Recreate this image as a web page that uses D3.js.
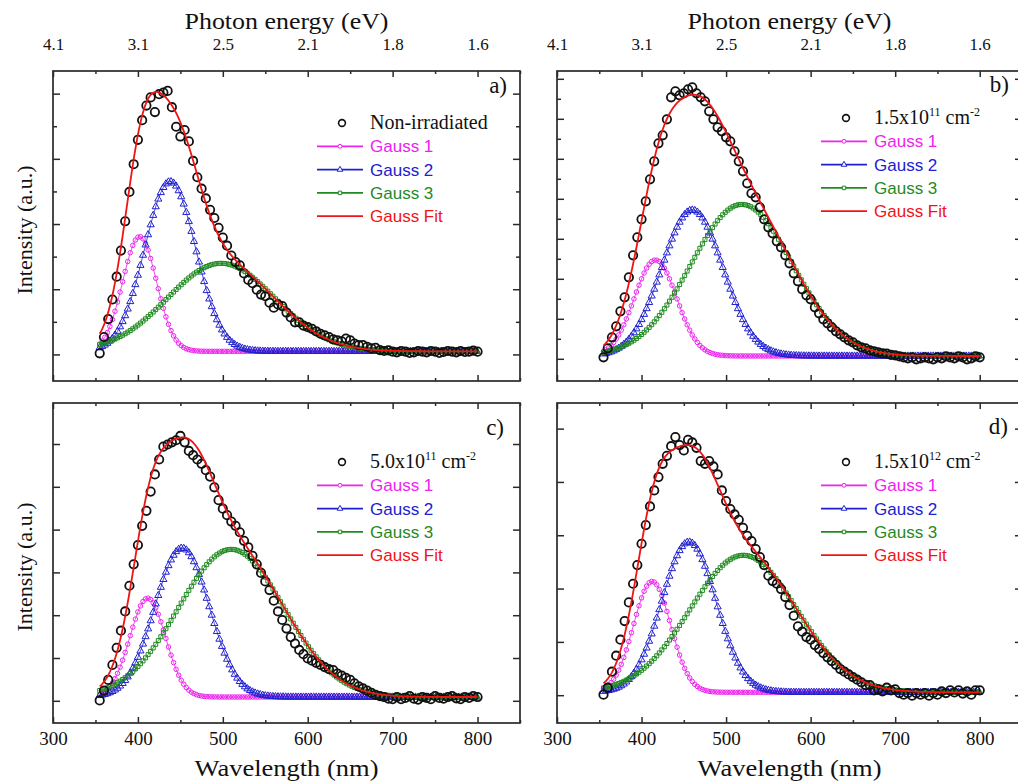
<!DOCTYPE html>
<html><head><meta charset="utf-8">
<script src="https://cdn.jsdelivr.net/npm/d3@7"></script>
<style>body{margin:0;background:#fff}svg{display:block}</style>
</head><body>
<svg id="chart" width="1018" height="783"></svg>
<script>
// ---------------- DATA ----------------
const wavelengthMajorTicks = [300, 400, 500, 600, 700, 800];
const wavelengthMinorTicks = [350, 450, 550, 650, 750, 850];
const photonEnergyLabels = ["4.1", "3.1", "2.5", "2.1", "1.8", "1.6"];
const panelLetters = ["a)", "b)", "c)", "d)"];
const sampleBase = ["Non-irradiated", "1.5x10", "5.0x10", "1.5x10"];
const sampleExp = [null, "11", "11", "12"];
const componentNames = ["Gauss 1", "Gauss 2", "Gauss 3", "Gauss Fit"];
const wavelengthDomain = [300, 850];

// measured PL points: 355 nm to 800 nm, every 5 nm
const measuredWavelengths = d3.range(355, 801, 5);
const intensityA = [0.05,0.55,1.10,1.70,2.40,3.20,4.10,5.00,5.85,6.60,7.20,7.65,7.90,7.45,8.00,8.05,8.10,7.60,7.00,6.70,
  6.90,6.55,5.95,5.45,5.10,4.80,4.45,4.20,3.90,3.60,3.35,3.05,2.85,2.75,2.50,2.30,2.20,2.00,1.85,1.80,
  1.60,1.45,1.55,1.50,1.30,1.15,1.00,1.00,0.90,0.85,0.80,0.72,0.65,0.60,0.55,0.48,0.45,0.42,0.50,0.45,
  0.35,0.30,0.30,0.25,0.20,0.22,0.15,0.12,0.14,0.10,0.08,0.12,0.10,0.06,0.08,0.12,0.10,0.08,0.12,0.10,
  0.06,0.09,0.12,0.10,0.08,0.12,0.09,0.10,0.13,0.10];
const intensityB = [0.10,0.55,1.10,1.65,2.40,3.10,4.10,5.20,6.10,7.00,7.90,9.00,9.90,10.80,11.20,12.00,13.10,13.40,13.20,13.30,
  13.50,13.60,13.30,13.10,12.90,12.40,12.00,11.60,11.40,11.10,10.90,10.40,9.90,9.40,8.80,8.30,8.10,7.60,7.00,6.60,
  6.30,5.90,5.60,5.20,4.80,4.30,3.90,3.50,3.20,3.00,2.60,2.30,2.00,1.80,1.60,1.40,1.25,1.10,0.95,0.85,
  0.70,0.60,0.55,0.45,0.40,0.35,0.30,0.28,0.22,0.20,0.15,0.10,0.05,0.10,0.00,0.05,0.10,0.05,0.00,0.10,
  0.05,0.15,0.10,0.05,0.15,0.10,0.00,0.05,0.15,0.10];
const intensityC = [0.02,0.25,0.50,0.85,1.25,1.65,2.10,2.70,3.20,3.65,4.10,4.45,4.90,5.30,5.65,5.95,6.00,6.05,6.10,6.20,
  6.05,5.85,5.75,5.65,5.55,5.40,5.25,5.00,4.70,4.50,4.35,4.20,4.10,3.95,3.75,3.60,3.40,3.20,3.00,2.80,
  2.60,2.35,2.10,1.90,1.70,1.50,1.35,1.20,1.10,1.00,0.95,0.90,0.85,0.80,0.75,0.73,0.65,0.60,0.55,0.50,
  0.42,0.35,0.30,0.25,0.20,0.15,0.12,0.10,0.06,0.05,0.10,0.05,0.08,0.12,0.06,0.04,0.10,0.08,0.05,0.12,
  0.08,0.06,0.10,0.12,0.07,0.05,0.10,0.08,0.12,0.10];
const intensityD = [0.02,0.15,0.45,0.75,1.05,1.40,1.75,2.10,2.45,2.85,3.20,3.55,3.85,4.10,4.35,4.50,4.68,4.85,4.70,4.60,
  4.80,4.75,4.65,4.40,4.35,4.40,4.30,4.15,3.85,3.65,3.50,3.40,3.30,3.15,3.00,2.90,2.75,2.60,2.45,2.25,
  2.15,2.10,2.00,1.85,1.70,1.50,1.30,1.20,1.10,1.05,0.95,0.88,0.80,0.72,0.65,0.58,0.50,0.45,0.40,0.35,
  0.30,0.25,0.20,0.20,0.10,0.12,0.08,0.15,0.10,0.12,0.05,0.02,0.05,0.00,0.05,0.02,0.05,0.00,0.05,0.02,
  0.08,0.05,0.10,0.06,0.10,0.04,0.08,0.02,0.10,0.10];

// Gauss fit parameters: [Gauss 1, Gauss 2, Gauss 3]
const peakCentersNm = [[402, 438, 498], [416.5, 460, 518.6], [411.5, 452, 510], [412.5, 456, 520.5]];
const peakWidthsNm  = [[20, 30, 63], [25, 36, 60], [21, 32, 62], [22, 32, 63]];
const peakHeights   = [[3.52, 5.21, 2.70], [4.8, 7.3, 7.58], [2.31, 3.48, 3.45], [2.08, 2.82, 2.57]];
const fitOffsets    = [0.11, 0.165, 0.10, 0.064];

// intensity axes (a.u.)
const yDomains = [[-0.8, 8.71], [-1.085, 14.415], [-0.507, 6.97], [-0.512, 5.49]];
const yTickValues = [d3.range(0, 9), d3.range(0, 15), d3.range(0, 7), d3.range(0, 6)];
const yMinorEveryOther = [true, true, false, false];

// ---------------- LAYOUT ----------------
const panels = [
  {x: 53,  y: 71,  w: 467, h: 310, col: 0, row: 0, lab: [13, 22], leg: 52},
  {x: 557, y: 71,  w: 465, h: 310, col: 1, row: 0, lab: [13, 21], leg: 47},
  {x: 53,  y: 403, w: 467, h: 320, col: 0, row: 1, lab: [16, 32], leg: 59},
  {x: 557, y: 403, w: 465, h: 320, col: 1, row: 1, lab: [14, 31], leg: 59}
];
const intensities = [intensityA, intensityB, intensityC, intensityD];
const colors = {g1: "#ee22ee", g2: "#2020d0", g3: "#1f8a1f", fit: "#f01414", data: "#111", axis: "#2a2a2a"};
const serif = "'Liberation Serif','Times New Roman',serif";
const sans = "'Liberation Sans',Arial,sans-serif";

const svg = d3.select("#chart");
const gaussVal = (x, c, w, h) => h * Math.exp(-((x - c) * (x - c)) / (2 * w * w));

panels.forEach((p, i) => {
  const g = svg.append("g");
  const x = d3.scaleLinear().domain(wavelengthDomain).range([p.x, p.x + p.w]);
  const y = d3.scaleLinear().domain(yDomains[i]).range([p.y + p.h, p.y]);

  const centers = peakCentersNm[i], widths = peakWidthsNm[i], heights = peakHeights[i], y0 = fitOffsets[i];
  const markerGrid = d3.range(355, 800.1, 3);
  const fitGrid = d3.range(355, 800.1, 1);
  const comp = k => markerGrid.map(l => ({l, v: y0 + gaussVal(l, centers[k], widths[k], heights[k])}));
  const fitPts = fitGrid.map(l => ({l, v: y0 + [0,1,2].reduce((s, k) => s + gaussVal(l, centers[k], widths[k], heights[k]), 0)}));
  const line = d3.line().x(d => x(d.l)).y(d => y(d.v));

  // components
  const compStyles = [
    {c: colors.g1, sym: d3.symbolCircle, size: 16},
    {c: colors.g2, sym: d3.symbolTriangle, size: 22},
    {c: colors.g3, sym: d3.symbolSquare, size: 16}
  ];
  compStyles.forEach((st, k) => {
    const pts = comp(k);
    g.append("path").attr("d", line(pts)).attr("fill", "none").attr("stroke", st.c).attr("stroke-width", 0.8);
    g.append("g").selectAll("path").data(pts).join("path")
      .attr("d", d3.symbol(st.sym, st.size))
      .attr("transform", d => `translate(${x(d.l)},${y(d.v)})`)
      .attr("fill", "none").attr("stroke", st.c).attr("stroke-width", 1);
  });

  // measured data
  g.append("g").selectAll("circle").data(intensities[i]).join("circle")
    .attr("cx", (d, j) => x(measuredWavelengths[j])).attr("cy", d => y(d)).attr("r", 4.2)
    .attr("fill", "none").attr("stroke", colors.data).attr("stroke-width", 1.8);

  // fit
  g.append("path").attr("d", line(fitPts)).attr("fill", "none").attr("stroke", colors.fit).attr("stroke-width", 1.8);

  // frame
  g.append("rect").attr("x", p.x).attr("y", p.y).attr("width", p.w).attr("height", p.h)
    .attr("fill", "none").attr("stroke", colors.axis).attr("stroke-width", 1.7);

  // x ticks (bottom and top, inward)
  const bottom = d3.axisBottom(x).tickValues(wavelengthMajorTicks).tickSize(-6).tickSizeOuter(0)
    .tickFormat(p.row === 1 ? d3.format("d") : () => "");
  const gb = g.append("g").attr("transform", `translate(0,${p.y + p.h})`).call(bottom);
  gb.select(".domain").remove();
  gb.selectAll("line").attr("stroke", colors.axis).attr("stroke-width", 1.5);
  gb.selectAll("text").attr("y", 9).attr("font-family", serif).attr("font-size", 19).attr("fill", "#111");
  const bottomMinor = d3.axisBottom(x).tickValues(wavelengthMinorTicks).tickSize(-3).tickFormat(() => "");
  const gbm = g.append("g").attr("transform", `translate(0,${p.y + p.h})`).call(bottomMinor);
  gbm.select(".domain").remove();
  gbm.selectAll("line").attr("stroke", colors.axis).attr("stroke-width", 1.5);

  const top = d3.axisTop(x).tickValues(wavelengthMajorTicks).tickSize(-6).tickSizeOuter(0)
    .tickFormat((d, j) => p.row === 0 ? photonEnergyLabels[j] : "");
  const gt = g.append("g").attr("transform", `translate(0,${p.y})`).call(top);
  gt.select(".domain").remove();
  gt.selectAll("line").attr("stroke", colors.axis).attr("stroke-width", 1.5);
  gt.selectAll("text").attr("y", -21).attr("font-family", serif).attr("font-size", 17).attr("fill", "#111");
  const topMinor = d3.axisTop(x).tickValues(wavelengthMinorTicks).tickSize(-3).tickFormat(() => "");
  const gtm = g.append("g").attr("transform", `translate(0,${p.y})`).call(topMinor);
  gtm.select(".domain").remove();
  gtm.selectAll("line").attr("stroke", colors.axis).attr("stroke-width", 1.5);

  // y ticks left & right, no labels
  const ticks = yTickValues[i];
  const tickLen = v => (yMinorEveryOther[i] && v % 2 === 1) ? 4 : 7;
  [[p.x, 1], [p.x + p.w, -1]].forEach(([xx, dir]) => {
    g.append("g").selectAll("line").data(ticks).join("line")
      .attr("x1", xx).attr("x2", v => xx + dir * tickLen(v))
      .attr("y1", v => y(v)).attr("y2", v => y(v))
      .attr("stroke", colors.axis).attr("stroke-width", 1.5);
  });

  // axis titles
  if (p.row === 0) {
    g.append("text").attr("x", p.x + p.w / 2).attr("y", 29).attr("text-anchor", "middle")
      .attr("font-family", serif).attr("font-size", 23).attr("fill", "#111")
      .attr("textLength", 204).attr("lengthAdjust", "spacingAndGlyphs").text("Photon energy (eV)");
  } else {
    g.append("text").attr("x", p.x + p.w / 2).attr("y", 776).attr("text-anchor", "middle")
      .attr("font-family", serif).attr("font-size", 24).attr("fill", "#111")
      .attr("textLength", 184).attr("lengthAdjust", "spacingAndGlyphs").text("Wavelength (nm)");
  }
  if (p.col === 0) {
    g.append("text").attr("transform", `translate(32,${p.y + p.h / 2 + 4}) rotate(-90)`).attr("text-anchor", "middle")
      .attr("font-family", serif).attr("font-size", 22).attr("fill", "#111").text("Intensity (a.u.)");
  }

  // panel letter
  g.append("text").attr("x", p.x + p.w - p.lab[0]).attr("y", p.y + p.lab[1]).attr("text-anchor", "end")
    .attr("font-family", serif).attr("font-size", 23).attr("fill", "#111").text(panelLetters[i]);

  // legend
  const lx = p.x + 264, tx = p.x + 317, ly = p.y + p.leg;
  g.append("circle").attr("cx", p.x + 289).attr("cy", ly).attr("r", 3.4)
    .attr("fill", "none").attr("stroke", colors.data).attr("stroke-width", 1.6);
  const t0 = g.append("text").attr("x", tx).attr("y", ly + 6).attr("font-family", serif).attr("font-size", 20).attr("fill", "#111");
  t0.append("tspan").text(sampleBase[i]);
  if (sampleExp[i]) {
    t0.append("tspan").attr("dy", -8).attr("font-size", 12).text(sampleExp[i]);
    t0.append("tspan").attr("dy", 8).text(" cm");
    t0.append("tspan").attr("dy", -8).attr("font-size", 12).text("-2");
  }
  const legStyles = [
    {c: colors.g1, sym: d3.symbolCircle, size: 12},
    {c: colors.g2, sym: d3.symbolTriangle, size: 14},
    {c: colors.g3, sym: d3.symbolSquare, size: 12},
    {c: colors.fit, sym: null}
  ];
  componentNames.forEach((name, k) => {
    const yy = ly + 23.3 * (k + 1);
    g.append("line").attr("x1", lx).attr("x2", lx + 46).attr("y1", yy).attr("y2", yy)
      .attr("stroke", legStyles[k].c).attr("stroke-width", 1.8);
    if (legStyles[k].sym) {
      g.append("path").attr("d", d3.symbol(legStyles[k].sym, legStyles[k].size))
        .attr("transform", `translate(${lx + 23},${yy})`).attr("fill", "#fff")
        .attr("stroke", legStyles[k].c).attr("stroke-width", 1);
    }
    g.append("text").attr("x", tx).attr("y", yy + 6).attr("font-family", sans).attr("font-size", 17)
      .attr("fill", legStyles[k].c).text(name);
  });
});
</script>
</body></html>
